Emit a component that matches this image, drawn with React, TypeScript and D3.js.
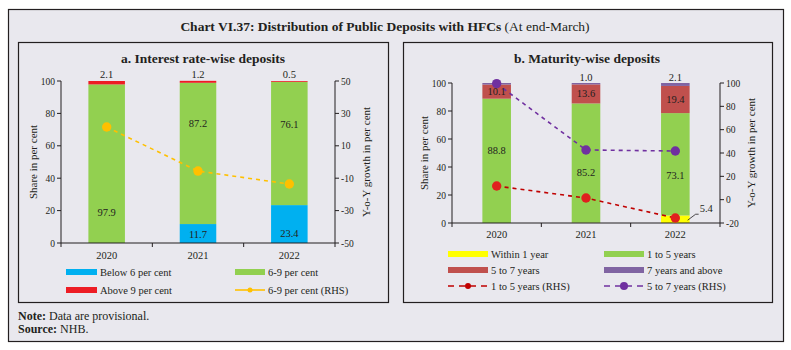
import * as d3 from 'd3';
import React from 'react';

const years = ['2020', '2021', '2022'];

// a. interest rate-wise shares (per cent)
const below6 = [0, 11.7, 23.4];
const sixToNine = [97.9, 87.2, 76.1];
const above9 = [2.1, 1.2, 0.5];
const sixToNineGrowth = [21.6, -5.6, -13.6];

// b. maturity-wise shares (per cent)
const within1 = [0, 0.2, 5.4];
const oneTo5 = [88.8, 85.2, 73.1];
const fiveTo7 = [10.1, 13.6, 19.4];
const sevenPlus = [1.1, 1.0, 2.1];
const oneTo5Growth = [11.7, 1.4, -15.7];
const fiveTo7Growth = [99.5, 42.6, 41.7];

const shareTicks = [0, 20, 40, 60, 80, 100];
const rightTicksA = [-50, -30, -10, 10, 30, 50];
const rightTicksB = [-20, 0, 20, 40, 60, 80, 100];

// where the in-bar labels sit (in share units)
const greenLabelAtA = [19, 74, 73];
const blueLabelAtA = [null, 5.5, 6];
const greenLabelAtB = [52, 36, 34];

const FONT = '"Liberation Serif", "Times New Roman", serif';
const INK = '#231f20';
const BG = '#e9e8ee';

type Sel = d3.Selection<SVGGElement, unknown, null, undefined>;

function drawFrame(
  g: Sel,
  x: d3.ScaleBand<string>,
  yL: d3.ScaleLinear<number, number>,
  yR: d3.ScaleLinear<number, number>,
  rightTicks: number[],
  labelY: number,
) {
  const [x0, x1] = x.range();
  const [yb, yt] = yL.range();
  const ax = g.append('g').attr('stroke', INK).attr('stroke-width', 1);
  ax.append('line').attr('x1', x0).attr('x2', x0).attr('y1', yt).attr('y2', yb);
  ax.append('line').attr('x1', x1).attr('x2', x1).attr('y1', yt).attr('y2', yb);
  ax.append('line').attr('x1', x0).attr('x2', x1).attr('y1', yb).attr('y2', yb);
  for (let i = 0; i <= years.length; i++) {
    const tx = x0 + i * x.step();
    ax.append('line').attr('x1', tx).attr('x2', tx).attr('y1', yb).attr('y2', yb + 4);
  }
  shareTicks.forEach((t) => {
    ax.append('line').attr('x1', x0 - 4).attr('x2', x0).attr('y1', yL(t)).attr('y2', yL(t));
    g.append('text')
      .attr('x', x0 - 6)
      .attr('y', yL(t) + 3.5)
      .attr('text-anchor', 'end')
      .text(t);
  });
  rightTicks.forEach((t) => {
    ax.append('line').attr('x1', x1).attr('x2', x1 + 4).attr('y1', yR(t)).attr('y2', yR(t));
    g.append('text')
      .attr('x', x1 + 6)
      .attr('y', yR(t) + 3.5)
      .text(t);
  });
  years.forEach((yr) => {
    g.append('text')
      .attr('x', x(yr)! + x.bandwidth() / 2)
      .attr('y', labelY)
      .attr('text-anchor', 'middle')
      .style('font-size', '10.5px')
      .text(yr);
  });
  const mid = (yt + yb) / 2;
  g.append('text')
    .attr('transform', `translate(${x0 - 24},${mid}) rotate(-90)`)
    .attr('text-anchor', 'middle')
    .style('font-size', '11px')
    .text('Share in per cent');
  g.append('text')
    .attr('transform', `translate(${x1 + 35},${mid}) rotate(-90)`)
    .attr('text-anchor', 'middle')
    .style('font-size', '11px')
    .text('Y-o-Y growth in per cent');
}

function drawStack(
  g: Sel,
  x: d3.ScaleBand<string>,
  y: d3.ScaleLinear<number, number>,
  series: { key: string; values: number[]; color: string }[],
) {
  const rows = years.map((yr, i) => {
    const r: Record<string, number | string> = { year: yr };
    series.forEach((s) => (r[s.key] = s.values[i]));
    return r;
  });
  const stack = d3.stack<Record<string, number | string>>().keys(series.map((s) => s.key));
  stack(rows).forEach((layer, li) => {
    g.selectAll(null)
      .data(layer)
      .enter()
      .append('rect')
      .attr('x', (d) => x(d.data.year as string)!)
      .attr('width', x.bandwidth())
      .attr('y', (d) => y(d[1]))
      .attr('height', (d) => Math.max(0, y(d[0]) - y(d[1])))
      .attr('fill', series[li].color);
  });
}

function drawLine(
  g: Sel,
  x: d3.ScaleBand<string>,
  y: d3.ScaleLinear<number, number>,
  values: number[],
  color: string,
  dotColor: string,
) {
  const cx = (i: number) => x(years[i])! + x.bandwidth() / 2;
  const line = d3
    .line<number>()
    .x((_, i) => cx(i))
    .y((d) => y(d));
  g.append('path')
    .attr('d', line(values))
    .attr('fill', 'none')
    .attr('stroke', color)
    .attr('stroke-width', 1.6)
    .attr('stroke-dasharray', '4,4');
  values.forEach((v, i) => {
    g.append('circle').attr('cx', cx(i)).attr('cy', y(v)).attr('r', 4.7).attr('fill', dotColor);
  });
}

function legendItem(
  g: Sel,
  x: number,
  y: number,
  w: number,
  color: string,
  label: string,
  line?: { dash: string; r: number },
) {
  if (line) {
    g.append('line')
      .attr('x1', x)
      .attr('x2', x + w)
      .attr('y1', y)
      .attr('y2', y)
      .attr('stroke', color)
      .attr('stroke-width', 1.6)
      .attr('stroke-dasharray', line.dash);
    g.append('circle').attr('cx', x + w / 2).attr('cy', y).attr('r', line.r).attr('fill', color);
  } else {
    g.append('rect').attr('x', x).attr('y', y - 3).attr('width', w).attr('height', 6).attr('fill', color);
  }
  g.append('text').attr('x', x + w + 3).attr('y', y + 3.5).text(label);
}

export default function App() {
  const svgRef = React.useRef<SVGSVGElement>(null);

  React.useEffect(() => {
    if (svgRef.current == null) {
      return;
    }
    const svg = d3.select(svgRef.current);
    svg.selectAll('*').remove();

    svg.append('rect').attr('width', 791).attr('height', 350).attr('fill', '#ffffff');
    svg
      .append('rect')
      .attr('x', 8.5)
      .attr('y', 9.5)
      .attr('width', 775)
      .attr('height', 332)
      .attr('fill', BG)
      .attr('stroke', INK)
      .attr('stroke-width', 1.2);

    const title = svg
      .append('text')
      .attr('x', 385)
      .attr('y', 31)
      .attr('text-anchor', 'middle')
      .style('font', `13.5px ${FONT}`)
      .attr('fill', INK);
    title.append('tspan').attr('font-weight', 'bold').text('Chart VI.37: Distribution of Public Deposits with HFCs');
    title.append('tspan').text(' (At end-March)');

    const root = svg.append('g').style('font', `9.5px ${FONT}`).attr('fill', INK);

    // ---------- panel a ----------
    const ga = root.append('g');
    ga.append('rect')
      .attr('x', 18.5)
      .attr('y', 42.5)
      .attr('width', 370)
      .attr('height', 260)
      .attr('fill', 'none')
      .attr('stroke', INK)
      .attr('stroke-width', 1.2);
    ga.append('text')
      .attr('x', 203)
      .attr('y', 63)
      .attr('text-anchor', 'middle')
      .style('font', `bold 13.5px ${FONT}`)
      .text('a. Interest rate-wise deposits');

    const xa = d3.scaleBand<string>().domain(years).range([61, 335]).paddingInner(0.6).paddingOuter(0.3);
    const yaL = d3.scaleLinear().domain([0, 100]).range([243, 81]);
    const yaR = d3.scaleLinear().domain([-50, 50]).range([243, 81]);

    drawStack(ga, xa, yaL, [
      { key: 'below6', values: below6, color: '#00b0f0' },
      { key: 'sixToNine', values: sixToNine, color: '#92d050' },
      { key: 'above9', values: above9, color: '#ed1c24' },
    ]);
    drawFrame(ga, xa, yaL, yaR, rightTicksA, 259);
    drawLine(ga, xa, yaR, sixToNineGrowth, '#ffc000', '#ffc000');

    const lab = ga.append('g').style('font-size', '10.5px');
    years.forEach((yr, i) => {
      const cx = xa(yr)! + xa.bandwidth() / 2;
      lab.append('text').attr('x', cx).attr('y', yaL(100) - 3).attr('text-anchor', 'middle').text(above9[i].toFixed(1));
      lab.append('text')
        .attr('x', cx)
        .attr('y', yaL(greenLabelAtA[i]) + 3.5)
        .attr('text-anchor', 'middle')
        .text(sixToNine[i].toFixed(1));
      const b = blueLabelAtA[i];
      if (b != null) {
        lab.append('text')
          .attr('x', cx)
          .attr('y', yaL(b) + 3.5)
          .attr('text-anchor', 'middle')
          .text(below6[i].toFixed(1));
      }
    });

    const la = ga.append('g').style('font', `10.5px ${FONT}`);
    legendItem(la, 66, 272, 31, '#00b0f0', 'Below 6 per cent');
    legendItem(la, 235, 272, 30, '#92d050', '6-9 per cent');
    legendItem(la, 66, 290, 31, '#ed1c24', 'Above 9 per cent');
    legendItem(la, 235, 290, 30, '#ffc000', '6-9 per cent (RHS)', { dash: '30,0', r: 2.5 });

    // ---------- panel b ----------
    const gb = root.append('g');
    gb.append('rect')
      .attr('x', 403.5)
      .attr('y', 42.5)
      .attr('width', 369)
      .attr('height', 260)
      .attr('fill', 'none')
      .attr('stroke', INK)
      .attr('stroke-width', 1.2);
    gb.append('text')
      .attr('x', 587)
      .attr('y', 63)
      .attr('text-anchor', 'middle')
      .style('font', `bold 13.5px ${FONT}`)
      .text('b. Maturity-wise deposits');

    const xb = d3.scaleBand<string>().domain(years).range([452, 720]).paddingInner(0.68).paddingOuter(0.34);
    const ybL = d3.scaleLinear().domain([0, 100]).range([223, 83]);
    const ybR = d3.scaleLinear().domain([-20, 100]).range([223, 83]);

    drawStack(gb, xb, ybL, [
      { key: 'within1', values: within1, color: '#ffff00' },
      { key: 'oneTo5', values: oneTo5, color: '#92d050' },
      { key: 'fiveTo7', values: fiveTo7, color: '#c0504d' },
      { key: 'sevenPlus', values: sevenPlus, color: '#8064a2' },
    ]);
    drawFrame(gb, xb, ybL, ybR, rightTicksB, 238);
    drawLine(gb, xb, ybR, fiveTo7Growth, '#7030a0', '#7030a0');
    drawLine(gb, xb, ybR, oneTo5Growth, '#c00000', '#e0201e');

    const lbb = gb.append('g').style('font-size', '10.5px');
    years.forEach((yr, i) => {
      const cx = xb(yr)! + xb.bandwidth() / 2;
      const base = within1[i] + oneTo5[i];
      lbb.append('text')
        .attr('x', cx)
        .attr('y', ybL(base + fiveTo7[i] / 2) + 3.5)
        .attr('text-anchor', 'middle')
        .text(fiveTo7[i].toFixed(1));
      lbb.append('text')
        .attr('x', cx)
        .attr('y', ybL(greenLabelAtB[i]) + 3.5)
        .attr('text-anchor', 'middle')
        .text(oneTo5[i].toFixed(1));
      if (i > 0) {
        lbb.append('text')
          .attr('x', cx)
          .attr('y', ybL(100) - 2)
          .attr('text-anchor', 'middle')
          .text(sevenPlus[i].toFixed(1));
      }
    });
    // leader for the small "within 1 year" slice
    const xr = xb('2022')! + xb.bandwidth();
    const yw = ybL(within1[2] / 2);
    gb.append('path')
      .attr('d', `M${xr - 2},${yw + 1} L${xr + 6},${yw - 5} L${xr + 9},${yw - 5}`)
      .attr('fill', 'none')
      .attr('stroke', INK)
      .attr('stroke-width', 0.8);
    lbb.append('text')
      .attr('x', xr + 10)
      .attr('y', yw - 7)
      .text(within1[2].toFixed(1));

    const lb = gb.append('g').style('font', `10.5px ${FONT}`);
    legendItem(lb, 448, 254, 40, '#ffff00', 'Within 1 year');
    legendItem(lb, 604, 254, 40, '#92d050', '1 to 5 years');
    legendItem(lb, 448, 270, 40, '#c0504d', '5 to 7 years');
    legendItem(lb, 604, 270, 40, '#8064a2', '7 years and above');
    legendItem(lb, 448, 286, 40, '#c00000', '1 to 5 years (RHS)', { dash: '6,5', r: 3 });
    legendItem(lb, 604, 286, 40, '#7030a0', '5 to 7 years (RHS)', { dash: '6,5', r: 4 });

    // ---------- notes ----------
    const notes = svg.append('g').style('font', `12px ${FONT}`).attr('fill', INK);
    const n1 = notes.append('text').attr('x', 18).attr('y', 320);
    n1.append('tspan').attr('font-weight', 'bold').text('Note:');
    n1.append('tspan').text(' Data are provisional.');
    const n2 = notes.append('text').attr('x', 18).attr('y', 333);
    n2.append('tspan').attr('font-weight', 'bold').text('Source:');
    n2.append('tspan').text(' NHB.');
  }, []);

  return (
    <svg
      ref={svgRef}
      width={791}
      height={350}
      style={{ position: 'absolute', left: 0, top: 0 }}
    ></svg>
  );
}
